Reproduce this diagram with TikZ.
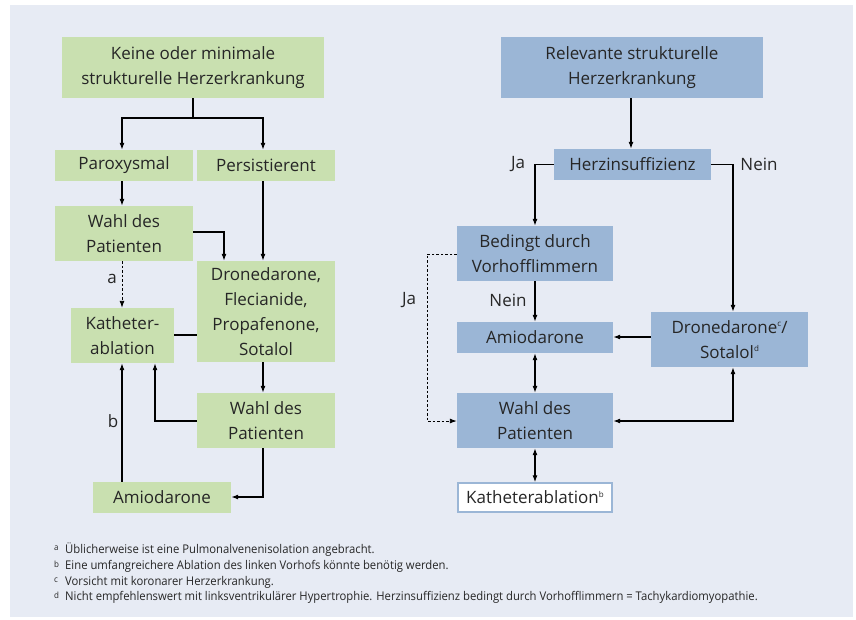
\documentclass[tikz,border=0pt]{standalone}
\usepackage{fontspec}
\setmainfont{Open Sans}
\newfontfamily\notefont[FakeStretch=0.94]{Open Sans}
\usetikzlibrary{arrows.meta}
\definecolor{panel}{HTML}{E7EBF4}
\definecolor{gbox}{HTML}{C9E0B0}
\definecolor{bbox}{HTML}{9BB6D6}
\definecolor{txt}{HTML}{262626}
\newcommand{\sps}[1]{\raisebox{0.75ex}{\fontsize{8}{8}\selectfont #1}}
\tikzset{
  base/.style={inner sep=0pt, text=txt, align=center, font=\fontsize{17}{25}\selectfont},
  gn/.style={base, fill=gbox},
  bn/.style={base, fill=bbox},
  wn/.style={base, fill=white, draw=bbox, line width=1.5pt},
  conn/.style={draw=black, line width=1.1pt, -{Latex[length=7pt,width=5pt]}},
  dconn/.style={conn, dash pattern=on 2.5pt off 2pt, line width=0.9pt},
  both/.style={draw=black, line width=1.1pt, {Latex[length=7pt,width=5pt]}-{Latex[length=7pt,width=5pt]}},
  plain/.style={draw=black, line width=1.1pt},
  lbl/.style={inner sep=0pt, text=txt, font=\fontsize{17}{18}\selectfont},
  note/.style={inner sep=0pt, anchor=west, text=txt, font=\notefont\fontsize{12}{13}\selectfont},
  noteletter/.style={inner sep=0pt, anchor=west, text=txt, font=\notefont\fontsize{8.5}{9}\selectfont}
}
\newcommand{\bx}[7]{% style, name, x1, y1, x2, y2, text
  \node[#1, minimum width={(#5-#3)*1pt}, minimum height={(#6-#4)*1pt}] (#2) at ({(#3+#5)/2},{(#4+#6)/2}) {#7};}
\begin{document}
\begin{tikzpicture}[x=1pt,y=-1pt]
\useasboundingbox (0,0) rectangle (856,619);
\fill[panel] (10,5) rectangle (853,617);
% ---------- left ----------
\bx{gn}{ltop}{62}{37}{324}{98}{Keine oder minimale\\strukturelle Herzerkrankung}
\bx{gn}{parox}{55}{150}{193}{181}{Paroxysmal}
\bx{gn}{pers}{197}{150}{335}{181}{Persistierent}
\bx{gn}{lwahl}{55}{206}{193}{261}{Wahl des\\Patienten}
\bx{gn}{drone}{197}{261}{335}{362}{Dronedarone,\\Flecianide,\\Propafenone,\\Sotalol}
\bx{gn}{kath}{71}{308}{174}{363}{Katheter-\\ablation}
\bx{gn}{lwahl2}{197}{393}{335}{448}{Wahl des\\Patienten}
\bx{gn}{lamio}{93}{482}{231}{513}{Amiodarone}

\coordinate (lsplit) at (193,118);
\draw[plain] (ltop.south) -- (lsplit);
\draw[conn] (lsplit) -| (parox.north -| 122,0);
\draw[conn] (lsplit) -| (pers.north -| 263,0);
\draw[conn] (parox.south -| 122,0) -- (lwahl.north -| 122,0);
\draw[conn] (lwahl.east |- 0,232) -| (drone.north -| 224,0);
\draw[conn] (pers.south -| 263,0) -- (drone.north -| 263,0);
\draw[dconn] (lwahl.south -| 122,0) -- (kath.north -| 122,0);
\node[lbl] (la) at (112,279) {a};
\draw[plain] (kath.east |- 0,335) -- (drone.west |- 0,335);
\draw[conn] (drone.south -| 263,0) -- (lwahl2.north -| 263,0);
\draw[conn] (lwahl2.west |- 0,421) -| (kath.south -| 155,0);
\draw[conn] (lwahl2.south -| 263,0) |- (lamio.east |- 0,497);
\draw[conn] (lamio.north -| 122,0) -- (kath.south -| 122,0);
\node[lbl] (lb) at (113,421) {b};

% ---------- right ----------
\bx{bn}{rtop}{501}{37}{763}{98}{Relevante strukturelle\\Herzerkrankung}
\bx{bn}{herz}{554}{149}{711}{180}{Herzinsuffizienz}
\bx{bn}{bed}{457}{226}{613}{281}{Bedingt durch\\Vorhofflimmern}
\bx{bn}{ramio}{457}{322}{613}{353}{Amiodarone}
\bx{bn}{rdrone}{651}{312}{808}{367}{Dronedarone\sps{c}/\\Sotalol\sps{d}}
\bx{bn}{rwahl}{457}{393}{613}{448}{Wahl des\\Patienten}
\bx{wn}{rkath}{458}{483}{612}{512}{Katheterablation\sps{b}}

\draw[conn] (rtop.south -| 631,0) -- (herz.north -| 631,0);
\draw[conn] (herz.west) -| (bed.north -| 535,0);
\node[lbl] (lja) at (518,164) {Ja};
\draw[conn] (herz.east) -| (rdrone.north -| 733,0);
\node[lbl] (lnein) at (759,164) {Nein};
\draw[conn] (bed.south -| 535,0) -- (ramio.north -| 535,0);
\node[lbl] (lnein2) at (508,300) {Nein};
\coordinate (dtop) at (427,254);
\coordinate (dbot) at (427,421);
\draw[dconn] (bed.west |- dtop) -- (dtop) -- (dbot) -- (rwahl.west |- dbot);
\node[lbl] (lja2) at (409,300) {Ja};
\draw[conn] (rdrone.west |- 0,337) -- (ramio.east |- 0,337);
\draw[both] (ramio.south -| 535,0) -- (rwahl.north -| 535,0);
\draw[both] (rwahl.east |- 0,421) -| (rdrone.south -| 733,0);
\draw[both] (rwahl.south -| 535,0) -- (rkath.north -| 535,0);

% ---------- notes ----------
\node[noteletter] (na) at (54,548) {a};
\node[note] (ta) at (65,550) {Üblicherweise ist eine Pulmonalvenenisolation angebracht.};
\node[noteletter] (nb) at (54,564) {b};
\node[note] (tb) at (65,566) {Eine umfangreichere Ablation des linken Vorhofs könnte benötig werden.};
\node[noteletter] (nc) at (54,580) {c};
\node[note] (tc) at (65,582) {Vorsicht mit koronarer Herzerkrankung.};
\node[noteletter] (nd) at (54,595) {d};
\node[note] (td) at (65,597) {Nicht empfehlenswert mit linksventrikulärer Hypertrophie. Herzinsuffizienz bedingt durch Vorhofflimmern = Tachykardiomyopathie.};
\end{tikzpicture}
\end{document}
